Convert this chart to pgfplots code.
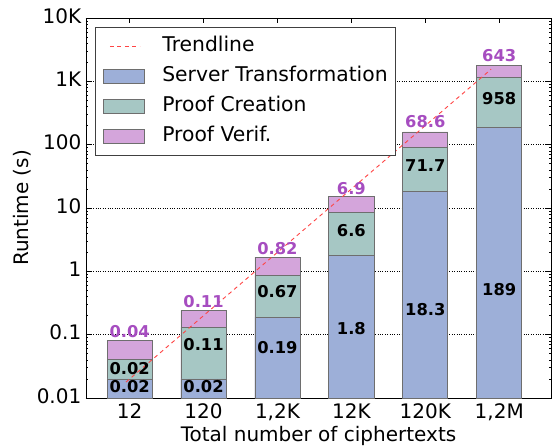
\documentclass[border=0pt]{standalone}
\usepackage{fontspec}
\setmainfont{DejaVu Sans}
\usepackage{pgfplots}
\usepackage{pgfplotstable}
\pgfplotsset{compat=1.18}
\definecolor{cServer}{HTML}{9DAFD8}
\definecolor{cCreate}{HTML}{A6C7C4}
\definecolor{cVerif}{HTML}{D4A5DB}
\definecolor{cLabel}{HTML}{A64DC0}
\definecolor{cEdge}{HTML}{6E6E6E}
\definecolor{cTrend}{HTML}{FF4545}

% raw runtimes (s)
\pgfplotstableread{
x server create verif
0 0.02 0.02 0.04
1 0.02 0.11 0.11
2 0.19 0.67 0.82
3 1.8 6.6 6.9
4 18.3 71.7 68.6
5 189 958 643
}\runtimes

% label positions and texts
\pgfplotstableread{
x ys yc yv ls lc lv
0 0.015 0.0294 0.111 0.02 0.02 0.04
1 0.015 0.0687 0.33 0.02 0.11 0.11
2 0.063 0.479 2.32 0.19 0.67 0.82
3 0.123 4.4 20.6 1.8 6.6 6.9
4 0.245 46.2 229 18.3 71.7 68.6
5 0.51 525 2540 189 958 643
}\labels

% trendline
\pgfplotstableread{
x y
-0.05 0.0178
4.89 1552
}\trend

\newcommand{\bigf}{\fontsize{20bp}{24bp}\selectfont}
\newcommand{\legf}{\fontsize{20.3bp}{24bp}\selectfont}
\newcommand{\lblf}{\fontsize{16.3bp}{19bp}\selectfont\bfseries}

\pgfplotsset{
  boxleg/.style={legend image code/.code={\draw[##1, line width=0.8bp] (0bp,-7bp) rectangle (41bp,7bp); \path (58bp,0bp);}},
  lineleg/.style={legend image code/.code={\draw[##1] (6bp,0bp) -- (36bp,0bp); \path (0bp,0bp) (58bp,0bp);}},
}

\begin{document}
\begin{tikzpicture}
\begin{axis}[
  scale only axis, width=465bp, height=380bp,
  ymode=log, ymin=0.01, ymax=10000, log origin y=infty,
  xmin=-0.59, xmax=5.70,
  ybar, bar width=0.61,
  xtick={0,1,2,3,4,5},
  xticklabels={12,120,{1,2K},12K,120K,{1,2M}},
  ytick={0.01,0.1,1,10,100,1000,10000},
  yticklabels={0.01,0.1,1,10,100,1K,10K},
  minor ytick={0.02,0.03,0.04,0.05,0.06,0.07,0.08,0.09,
    0.2,0.3,0.4,0.5,0.6,0.7,0.8,0.9,
    2,3,4,5,6,7,8,9,
    20,30,40,50,60,70,80,90,
    200,300,400,500,600,700,800,900,
    2000,3000,4000,5000,6000,7000,8000,9000},
  ymajorgrids,
  major grid style={dotted, black, line width=0.9bp},
  tick align=inside,
  major tick length=5bp, minor tick length=2.5bp,
  tick style={black, line width=0.6bp},
  axis line style={black, line width=0.8bp},
  tick label style={font=\bigf},
  xticklabel style={anchor=base, yshift=-20bp},
  yticklabel style={anchor=base east, inner sep=0pt, xshift=-4.5bp, yshift=-5bp},
  xlabel={Total number of ciphertexts},
  ylabel={Runtime (s)},
  label style={font=\bigf},
  xlabel style={at={(axis description cs:0.5,-0.1132)}, anchor=base},
  ylabel style={at={(axis description cs:-0.1226,0.5)}, anchor=base},
  legend cell align=left,
  legend style={at={(axis description cs:0.0194,0.9755)}, anchor=north west,
    draw=black!75, line width=0.8bp, font=\legf,
    inner xsep=8bp, inner ysep=9bp, row sep=10bp,
    nodes={inner sep=0pt, text height=15bp, text depth=5bp, anchor=west}},
]
\coordinate (sw) at (rel axis cs:0,0);
\coordinate (ne) at (rel axis cs:1,1);

\addlegendimage{lineleg, cTrend, dash pattern=on 4bp off 3.5bp, line width=0.9bp}
\addlegendentry{Trendline}
\addlegendimage{boxleg, fill=cServer, draw=cEdge}
\addlegendentry{Server Transformation}
\addlegendimage{boxleg, fill=cCreate, draw=cEdge}
\addlegendentry{Proof Creation}
\addlegendimage{boxleg, fill=cVerif, draw=cEdge}
\addlegendentry{Proof Verif.}

% stacked bars drawn as overlapping cumulative bars
\addplot[fill=cVerif, draw=cEdge, line width=0.8bp, bar shift=0pt, forget plot]
  table[x=x, y expr=\thisrow{server}+\thisrow{create}+\thisrow{verif}] {\runtimes};
\addplot[fill=cCreate, draw=cEdge, line width=0.8bp, bar shift=0pt, forget plot]
  table[x=x, y expr=\thisrow{server}+\thisrow{create}] {\runtimes};
\addplot[fill=cServer, draw=cEdge, line width=0.8bp, bar shift=0pt, forget plot]
  table[x=x, y=server] {\runtimes};

% trendline
\addplot[sharp plot, mark=none, cTrend, dash pattern=on 4bp off 3.5bp, line width=0.9bp, forget plot]
  table[x=x, y=y] {\trend};

% labels
\addplot[sharp plot, draw=none, mark=none, forget plot,
  nodes near coords, point meta=explicit symbolic, nodes near coords align={center},
  every node near coord/.style={font=\lblf, text=black, inner sep=0pt, anchor=center}]
  table[x=x, y=ys, meta=ls] {\labels};
\addplot[sharp plot, draw=none, mark=none, forget plot,
  nodes near coords, point meta=explicit symbolic, nodes near coords align={center},
  every node near coord/.style={font=\lblf, text=black, inner sep=0pt, anchor=center}]
  table[x=x, y=yc, meta=lc] {\labels};
\addplot[sharp plot, draw=none, mark=none, forget plot,
  nodes near coords, point meta=explicit symbolic, nodes near coords align={center},
  every node near coord/.style={font=\lblf, text=cLabel, inner sep=0pt, anchor=center}]
  table[x=x, y=yv, meta=lv] {\labels};
\end{axis}
\pgfresetboundingbox
\path ([shift={(-86bp,-50bp)}]sw) rectangle ([shift={(1bp,18bp)}]ne);
\end{tikzpicture}
\end{document}
